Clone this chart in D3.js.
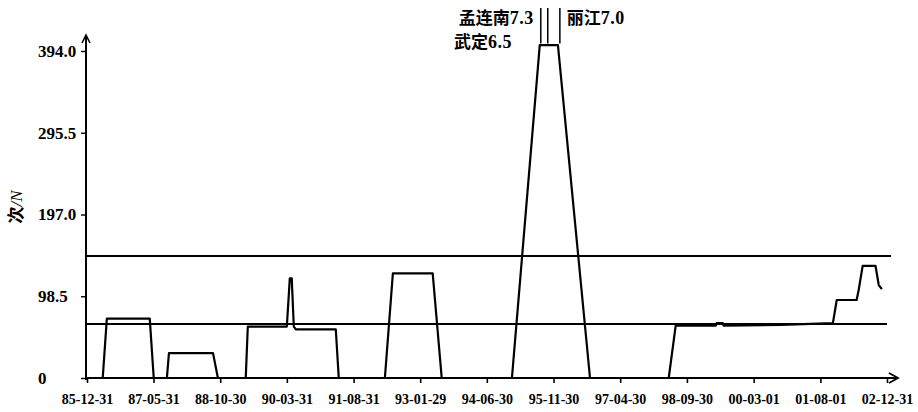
<!DOCTYPE html>
<html>
<head>
<meta charset="utf-8">
<script src="https://cdn.jsdelivr.net/npm/d3@7"></script>
<style>
  body { margin: 0; background: #fff; }
  svg { display: block; }
</style>
</head>
<body>
<div id="chart"></div>
<script>
// series: count per sliding window (dates)
const seriesDates = [
  "1985-12-31", "1986-05-02", "1986-06-03", "1987-05-02", "1987-06-02",
  "1987-09-12", "1987-09-28", "1988-09-04", "1988-10-12",
  "1989-05-16", "1989-06-01", "1990-03-31", "1990-04-23", "1990-05-08", "1990-05-24", "1990-06-09", "1991-04-15", "1991-05-08",
  "1992-04-30", "1992-07-01", "1993-05-06", "1993-07-15",
  "1995-01-11", "1995-08-15", "1996-01-03", "1996-09-08",
  "1998-05-12", "1998-07-05", "1999-05-12", "1999-05-18", "1999-07-06", "1999-07-12", "2000-10-01", "2001-11-06",
  "2001-12-06", "2002-05-09", "2002-05-24", "2002-06-25", "2002-10-03", "2002-10-28", "2002-11-21"
];
const seriesValues = [
  0, 0, 71.5, 71.5, 0,
  0, 30, 30, 0,
  0, 62, 62, 120, 120, 62, 58.5, 58.5, 0,
  0, 126, 126, 0,
  0, 401, 401, 0,
  0, 63, 63, 66, 66, 63, 64, 66,
  94, 94, 105, 135, 135, 112, 107
];

// reference levels and how far they run
const refLevels = [65, 147];
const refEnds = ["2002-12-31", "2003-01-31"];

// earthquakes marked above the peak
const quakeDates = ["1995-08-23", "1995-10-16", "1996-01-18"];
const quakeNames = ["孟连南", "武定", "丽江"];
const quakeMags = ["7.3", "6.5", "7.0"];

const xTickDates = [
  "1985-12-31", "1987-05-31", "1988-10-30", "1990-03-31", "1991-08-31", "1993-01-29",
  "1994-06-30", "1995-11-30", "1997-04-30", "1998-09-30", "2000-03-01", "2001-08-01", "2002-12-31"
];
const yTicks = [0, 98.5, 197.0, 295.5, 394.0];

const parse = d3.utcParse("%Y-%m-%d");
const fmt = d3.utcFormat("%y-%m-%d");

const width = 918, height = 412;
const svg = d3.select("#chart").append("svg")
  .attr("width", width).attr("height", height)
  .style("background", "#fff");

const x = d3.scaleUtc()
  .domain([parse(xTickDates[0]), parse(xTickDates[xTickDates.length - 1])])
  .range([87, 887]);
const y = d3.scaleLinear().domain([0, 394]).range([378, 51]);

const numFont = "'Liberation Serif', 'Times New Roman', serif";

// x axis
const xAxis = d3.axisBottom(x)
  .tickValues(xTickDates.map(parse))
  .tickFormat(fmt)
  .tickSize(5)
  .tickPadding(11);
const gx = svg.append("g")
  .attr("transform", `translate(0,${y(0)})`)
  .call(xAxis);
gx.select(".domain").remove();
gx.selectAll(".tick line").attr("stroke", "#000").attr("stroke-width", 1.6);
gx.selectAll(".tick text")
  .attr("fill", "#000")
  .style("font-family", numFont)
  .style("font-weight", "bold")
  .style("font-size", "14px");

// y axis
const yAxis = d3.axisLeft(y)
  .tickValues(yTicks)
  .tickFormat(d => d === 0 ? "0" : d.toFixed(1))
  .tickSize(5);
const gy = svg.append("g")
  .attr("transform", `translate(86,0)`)
  .call(yAxis);
gy.select(".domain").remove();
gy.selectAll(".tick line").attr("stroke", "#000").attr("stroke-width", 1.4);
gy.selectAll(".tick text")
  .attr("fill", "#000")
  .attr("x", -48)
  .attr("text-anchor", "start")
  .style("font-family", numFont)
  .style("font-weight", "bold")
  .style("font-size", "17px");

// axis lines with arrows
svg.append("line")
  .attr("x1", 86).attr("x2", 896).attr("y1", y(0)).attr("y2", y(0))
  .attr("stroke", "#000").attr("stroke-width", 2);
svg.append("path")
  .attr("d", `M889,${y(0) - 5} L898,${y(0)} L889,${y(0) + 5}`)
  .attr("fill", "none").attr("stroke", "#000").attr("stroke-width", 1.8);
svg.append("line")
  .attr("x1", 86).attr("x2", 86).attr("y1", y(0) + 2).attr("y2", 37)
  .attr("stroke", "#000").attr("stroke-width", 2);
svg.append("path")
  .attr("d", `M82,43 L86,35 L90,43`)
  .attr("fill", "none").attr("stroke", "#000").attr("stroke-width", 1.6);

// y axis title
svg.append("text")
  .attr("transform", "translate(22,207) rotate(-90)")
  .attr("text-anchor", "middle")
  .style("font-size", "17px")
  .call(t => {
    t.append("tspan").style("font-family", "'Noto Sans CJK SC'").style("font-weight", "bold").text("次");
    t.append("tspan").style("font-family", numFont).style("font-style", "italic").text("/N");
  });

// reference lines
svg.selectAll(".ref")
  .data(refLevels)
  .enter()
  .append("line")
  .attr("class", "ref")
  .attr("x1", 86)
  .attr("x2", (d, i) => x(parse(refEnds[i])))
  .attr("y1", d => y(d))
  .attr("y2", d => y(d))
  .attr("stroke", "#000")
  .attr("stroke-width", 2);

// series
const points = seriesDates.map((d, i) => [parse(d), seriesValues[i]]);
const line = d3.line()
  .x(d => x(d[0]))
  .y(d => y(d[1]));
svg.append("path")
  .attr("d", line(points))
  .attr("fill", "none")
  .attr("stroke", "#000")
  .attr("stroke-width", 2.2)
  .attr("stroke-linejoin", "round");

// earthquake markers
svg.selectAll(".quake")
  .data(quakeDates)
  .enter()
  .append("line")
  .attr("class", "quake")
  .attr("x1", d => x(parse(d)))
  .attr("x2", d => x(parse(d)))
  .attr("y1", 8)
  .attr("y2", y(403))
  .attr("stroke", "#000")
  .attr("stroke-width", 1.5);

const qx = quakeDates.map(d => x(parse(d)));
function quakeLabel(i, xPos, yPos, anchor) {
  const t = svg.append("text")
    .attr("x", xPos).attr("y", yPos)
    .attr("text-anchor", anchor);
  t.append("tspan")
    .style("font-family", "'Noto Sans CJK SC'")
    .style("font-size", "17px")
    .style("font-weight", "bold")
    .text(quakeNames[i]);
  t.append("tspan")
    .style("font-family", numFont)
    .style("font-size", "18px")
    .style("font-weight", "bold")
    .style("letter-spacing", "0.5px")
    .text(quakeMags[i]);
  return t;
}
quakeLabel(0, qx[0] - 7, 24, "end");
quakeLabel(1, 454, 48, "start");
quakeLabel(2, qx[2] + 7, 24, "start");
</script>
</body>
</html>
